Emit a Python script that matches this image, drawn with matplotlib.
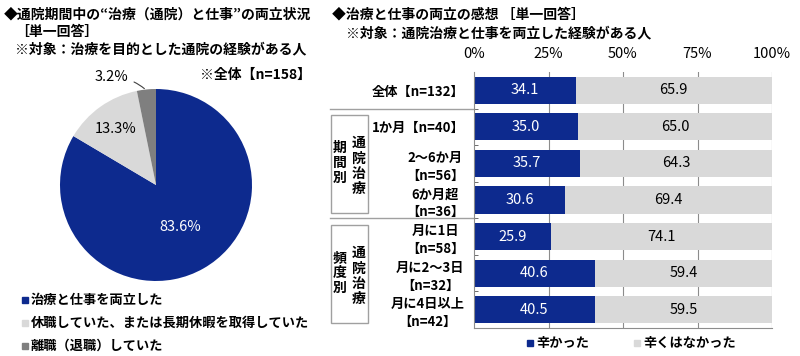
import numpy as np
import matplotlib
matplotlib.use("Agg")
import matplotlib.pyplot as plt
from matplotlib.patches import Rectangle

plt.rcParams['font.family'] = ['Noto Sans CJK JP', 'DejaVu Sans']

NAVY = '#0d2a8e'
LGRAY = '#d9d9d9'
DGRAY = '#7f7f7f'

# left pie data
pie_labels = ['治療と仕事を両立した', '休職していた、または長期休暇を取得していた', '離職（退職）していた']
pie_values = [83.6, 13.3, 3.2]
pie_colors = [NAVY, LGRAY, DGRAY]

# right bar data
row_labels = ['全体【n=132】', '1か月【n=40】', '2～6か月\n【n=56】', '6か月超\n【n=36】',
              '月に1日\n【n=58】', '月に2～3日\n【n=32】', '月に4日以上\n【n=42】']
hard = [34.1, 35.0, 35.7, 30.6, 25.9, 40.6, 40.5]
not_hard = [65.9, 65.0, 64.3, 69.4, 74.1, 59.4, 59.5]
bar_legend = ['辛かった', '辛くはなかった']
xticks = [0, 25, 50, 75, 100]

W, H = 800, 356
fig = plt.figure(figsize=(W / 100, H / 100), dpi=100)


def px(x, y):
    return x / W, 1 - y / H


def ftext(x, y, s, **kw):
    kw.setdefault('fontsize', 9.5)
    kw.setdefault('fontweight', 'bold')
    kw.setdefault('va', 'center')
    fig.text(*px(x, y), s, **kw)


# ---- titles ----
ftext(4, 15, '◆通院期間中の“治療（通院）と仕事”の両立状況', fontsize=10)
ftext(15, 32, '［単一回答］', fontsize=10)
ftext(15, 49, '※対象：治療を目的とした通院の経験がある人', fontsize=10)
ftext(311, 75, '※全体【n=158】', fontsize=10, ha='right')

ftext(332, 15, '◆治療と仕事の両立の感想 ［単一回答］', fontsize=10)
ftext(346, 33, '※対象：通院治療と仕事を両立した経験がある人', fontsize=10)

# ---- pie ----
cx, cy, r = 156, 185, 96
axp = fig.add_axes([(cx - r) / W, (H - cy - r) / H, 2 * r / W, 2 * r / H])
wedges, _ = axp.pie(pie_values, colors=pie_colors, startangle=90, counterclock=False,
                    wedgeprops=dict(linewidth=0))
axp.set_xlim(-1, 1)
axp.set_ylim(-1, 1)
axp.set_aspect('auto')

dists = [0.5, 0.72, 1.0]
tcols = ['white', 'black', 'black']
for w, v, d, c in zip(wedges, pie_values, dists, tcols):
    ang = np.deg2rad((w.theta1 + w.theta2) / 2)
    if d < 1:
        axp.text(d * np.cos(ang), d * np.sin(ang), f'{v}%', ha='center', va='center',
                 fontsize=10.5, color=c)
    else:
        x0, y0 = np.cos(ang), np.sin(ang)
        axp.annotate(f'{v}%', xy=(x0 * 0.99, y0 * 0.99), xytext=(-0.46, 1.12),
                     ha='center', va='center', fontsize=10.5, annotation_clip=False,
                     arrowprops=dict(arrowstyle='-', color='#404040', lw=0.8,
                                     connectionstyle='arc3,rad=-0.2'))

# pie legend
for i, (lab, col) in enumerate(zip(pie_labels, pie_colors)):
    y = 300 + i * 23
    fig.patches.append(Rectangle(px(22, y + 3), 6 / W, 6 / H, color=col,
                                 transform=fig.transFigure))
    ftext(31, y, lab)

# ---- bars ----
x0, x1, y0, y1 = 474, 772, 72, 328
axb = fig.add_axes([x0 / W, (H - y1) / H, (x1 - x0) / W, (y1 - y0) / H])
ypos = np.arange(len(row_labels))
axb.barh(ypos, hard, height=0.74, color=NAVY, zorder=2)
axb.barh(ypos, not_hard, left=hard, height=0.74, color=LGRAY, zorder=2)
for i in ypos:
    axb.text(hard[i] / 2, i, f'{hard[i]:.1f}', ha='center', va='center',
             color='white', fontsize=10.5, zorder=3)
    axb.text(hard[i] + not_hard[i] / 2, i, f'{not_hard[i]:.1f}', ha='center',
             va='center', color='black', fontsize=10.5, zorder=3)

axb.set_xlim(0, 100)
axb.set_ylim(len(row_labels) - 0.5, -0.5)
axb.xaxis.tick_top()
axb.set_xticks(xticks, [f'{t}%' for t in xticks], fontsize=10.5)
axb.tick_params(axis='x', length=0, pad=8)
axb.set_yticks(ypos, row_labels, fontsize=9.5, fontweight='bold', linespacing=1.35)
for t in axb.get_yticklabels():
    t.set_multialignment('center')
axb.tick_params(axis='y', length=0, pad=7)
axb.set_yticks(ypos[:-1] + 0.5, minor=True)
axb.tick_params(axis='y', which='minor', length=3, direction='in', color='#555555')
for t in xticks[1:]:
    axb.axvline(t, color='#8c8c8c', lw=0.8, zorder=1)
for s in ['top', 'right']:
    axb.spines[s].set_visible(False)
for s in ['left', 'bottom']:
    axb.spines[s].set_color('#8c8c8c')
    axb.spines[s].set_linewidth(0.8)

# group separators
for yb in [0.5, 3.5]:
    axb.axhline(yb, xmin=(330 - x0) / (x1 - x0), xmax=0, color='#a0a0a0', lw=1,
                clip_on=False)

# group boxes
for (top, bot), grp in zip([(115, 213), (225, 323)], ['期間別', '頻度別']):
    fig.patches.append(Rectangle(px(331, bot), 37 / W, (bot - top) / H, fill=False,
                                 edgecolor='#a0a0a0', lw=1, transform=fig.transFigure))
    mid = (top + bot) / 2
    ftext(340, mid - 1, '\n'.join(grp), fontsize=10, ha='center', linespacing=1.1)
    ftext(359, mid + 2, '\n'.join('通院治療'), fontsize=10, ha='center', linespacing=1.1)

# bar legend
for (lx, lab), col in zip([(527, bar_legend[0]), (634, bar_legend[1])], [NAVY, LGRAY]):
    fig.patches.append(Rectangle(px(lx, 346), 6 / W, 6 / H, color=col,
                                 transform=fig.transFigure))
    ftext(lx + 9, 343, lab)

fig.savefig('out.png', dpi=100)
